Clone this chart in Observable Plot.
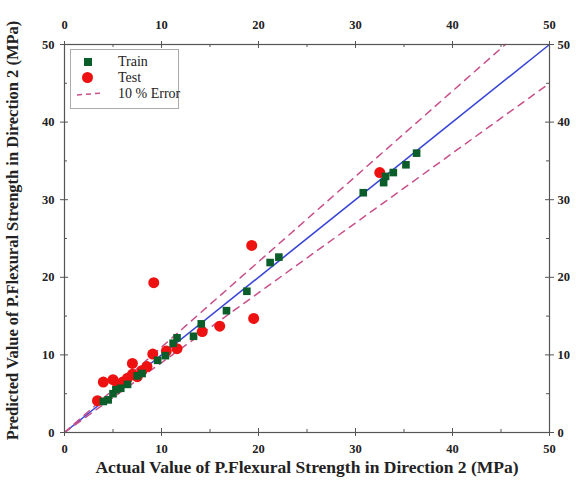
<!DOCTYPE html>
<html><head><meta charset="utf-8">
<script src="https://cdn.jsdelivr.net/npm/d3@7"></script>
<script src="https://cdn.jsdelivr.net/npm/@observablehq/plot@0.6"></script>
<style>
body{margin:0;background:#fff;}
#wrap{position:relative;width:576px;height:483px;font-family:"Liberation Serif","Times New Roman",serif;}
#legend{position:absolute;left:70px;top:49px;width:107px;height:58px;border:1px solid #aaa;background:#fff;font-size:14px;color:#222;}
.row{position:absolute;left:0;height:15px;line-height:15px;}
</style>
</head><body>
<div id="wrap"><div id="chart"></div>
<div id="legend">
 <div class="row" style="top:4px"><span style="position:absolute;left:13px;top:4px;width:8px;height:8px;background:#0b5e2a"></span><span style="position:absolute;left:47px;white-space:nowrap">Train</span></div>
 <div class="row" style="top:20px"><span style="position:absolute;left:11px;top:2px;width:11px;height:11px;border-radius:50%;background:#ee1111"></span><span style="position:absolute;left:47px;white-space:nowrap">Test</span></div>
 <div class="row" style="top:36px"><svg style="position:absolute;left:4px;top:0" width="30" height="15"><line x1="2" y1="9" x2="28" y2="7" stroke="#c8508a" stroke-width="1.5" stroke-dasharray="5,4"/></svg><span style="position:absolute;left:47px;white-space:nowrap">10 % Error</span></div>
</div>
</div>
<script>
const trainActual = [4.0,4.5,5.0,5.3,5.8,6.5,7.5,8.0,9.6,10.4,11.2,11.6,13.3,14.1,16.7,18.8,21.2,22.1,30.8,32.9,33.1,33.9,35.2,36.3];
const trainPred   = [4.0,4.2,5.0,5.5,5.7,6.2,7.3,7.6,9.3,9.9,11.5,12.2,12.4,14.0,15.7,18.2,21.9,22.6,30.9,32.2,33.0,33.5,34.5,36.0];
const testActual = [3.4,4.0,5.0,5.5,6.0,6.5,7.0,7.0,7.5,8.0,8.5,9.1,9.2,10.5,11.6,14.2,16.0,19.3,19.5,32.5];
const testPred   = [4.1,6.5,6.8,6.0,6.5,7.0,7.5,8.9,7.2,8.0,8.5,10.1,19.3,10.5,10.8,13.0,13.7,24.1,14.7,33.5];
const majorTicks = [0,10,20,30,40,50];
const minorTicks = [5,15,25,35,45];
const ideal = [0,50];
const errUpperX = [0,50/1.1];
const errLowerX = [0,50];

const train = trainActual.map((a,i)=>({a,p:trainPred[i]}));
const test = testActual.map((a,i)=>({a,p:testPred[i]}));
const font = {fontFamily:"Liberation Serif", fontWeight:"bold", fontSize:12.5};
const W = 576, H = 483, mL = 64, mR = 27, mT = 44, mB = 51;
const pw = W-mL-mR, ph = H-mT-mB;

const chart = Plot.plot({
  width: W, height: H,
  marginLeft: mL, marginRight: mR, marginTop: mT, marginBottom: mB,
  x: {domain:[0,50]}, y: {domain:[0,50]},
  style: {background:"#fff", color:"#222", overflow:"visible"},
  marks: [
    Plot.line(ideal.map(v=>({x:v,y:v})), {x:"x", y:"y", stroke:"#3a46d8", strokeWidth:1.6}),
    Plot.line(errUpperX.map(v=>({x:v,y:v*1.1})), {x:"x", y:"y", stroke:"#c8508a", strokeWidth:1.5, strokeDasharray:"7,6"}),
    Plot.line(errLowerX.map(v=>({x:v,y:v*0.9})), {x:"x", y:"y", stroke:"#c8508a", strokeWidth:1.5, strokeDasharray:"7,6"}),
    Plot.dot(test, {x:"a", y:"p", r:5.5, fill:"#ee1111", stroke:"none"}),
    Plot.dot(train, {x:"a", y:"p", symbol:"square", r:4.3, fill:"#0b5e2a", stroke:"none"}),
    Plot.frame({stroke:"#555", strokeWidth:1.2}),
    Plot.tickX(majorTicks, {x:d=>d, insetTop: ph-4, stroke:"#555"}),
    Plot.tickX(minorTicks, {x:d=>d, insetTop: ph-3, stroke:"#555"}),
    Plot.tickX(majorTicks, {x:d=>d, insetBottom: ph-4, stroke:"#555"}),
    Plot.tickX(minorTicks, {x:d=>d, insetBottom: ph-3, stroke:"#555"}),
    Plot.tickY(majorTicks, {y:d=>d, insetRight: pw-4, stroke:"#555"}),
    Plot.tickY(minorTicks, {y:d=>d, insetRight: pw-3, stroke:"#555"}),
    Plot.tickY(majorTicks, {y:d=>d, insetLeft: pw-4, stroke:"#555"}),
    Plot.tickY(minorTicks, {y:d=>d, insetLeft: pw-3, stroke:"#555"}),
    Plot.axisX(majorTicks, {anchor:"bottom", tickSize:4, tickPadding:8, label:null, ...font, stroke:"#555"}),
    Plot.axisX(majorTicks, {anchor:"top", tickSize:4, tickPadding:12, label:null, ...font, stroke:"#555"}),
    Plot.axisY(majorTicks, {anchor:"left", tickSize:4, tickPadding:6, label:null, ...font, stroke:"#555"}),
    Plot.axisY(majorTicks, {anchor:"right", tickSize:4, tickPadding:4, label:null, ...font, stroke:"#555"}),
    Plot.text(["Actual Value of P.Flexural Strength in Direction 2 (MPa)"], {frameAnchor:"bottom", dy:40, fontFamily:"Liberation Serif", fontWeight:"bold", fontSize:17.5, fill:"#222"}),
    Plot.text(["Predicted Value of P.Flexural Strength in Direction 2 (MPa)"], {frameAnchor:"left", textAnchor:"middle", dx:-52, dy:-8, rotate:-90, fontFamily:"Liberation Serif", fontWeight:"bold", fontSize:16.5, fill:"#222"})
  ]
});
document.getElementById("chart").appendChild(chart);
</script>
</body></html>
